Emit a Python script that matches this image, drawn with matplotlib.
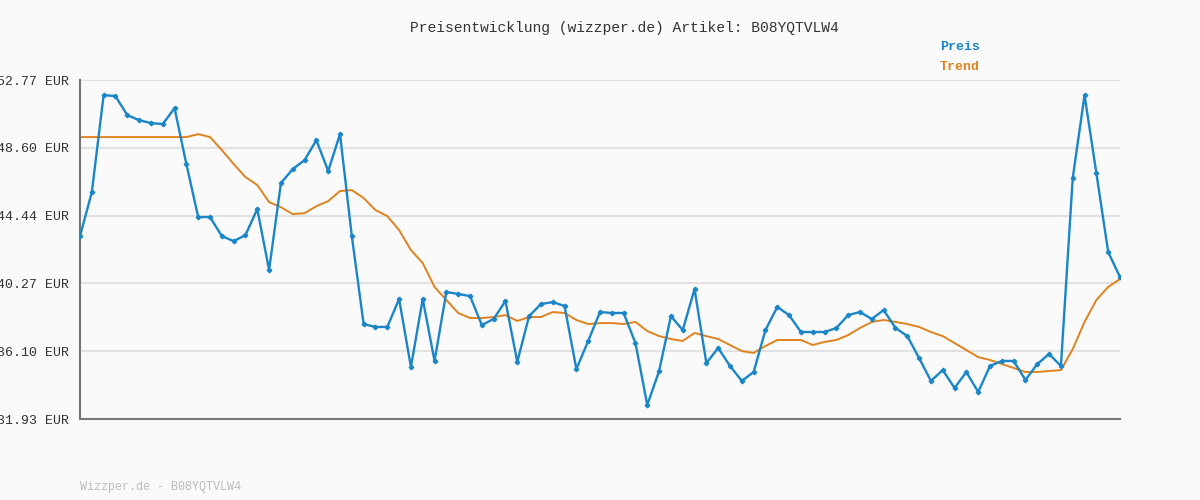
import numpy as np
import matplotlib.pyplot as plt

preis = [43.18, 45.88, 51.85, 51.79, 50.62, 50.31, 50.13, 50.07, 51.05, 47.61,
         44.35, 44.35, 43.18, 42.87, 43.24, 44.84, 41.10, 46.44, 47.30, 47.85,
         49.08, 47.18, 49.45, 43.18, 37.77, 37.59, 37.59, 39.31, 35.13, 39.31,
         35.50, 39.74, 39.62, 39.49, 37.71, 38.08, 39.19, 35.44, 38.26, 39.00,
         39.12, 38.88, 35.00, 36.73, 38.51, 38.45, 38.45, 36.60, 32.79, 34.88,
         38.26, 37.40, 39.92, 35.37, 36.30, 35.19, 34.27, 34.82, 37.40, 38.82,
         38.32, 37.28, 37.28, 37.28, 37.53, 38.32, 38.51, 38.08, 38.63, 37.53,
         37.03, 35.68, 34.27, 34.94, 33.84, 34.82, 33.59, 35.19, 35.50, 35.50,
         34.33, 35.31, 35.93, 35.19, 46.75, 51.85, 47.05, 42.20, 40.66]

trend = [49.27] * 10 + [
         49.45, 49.27, 48.47, 47.61, 46.81, 46.32, 45.27, 44.96, 44.53, 44.59,
         45.02, 45.33, 45.95, 46.01, 45.52, 44.78, 44.41, 43.55, 42.32, 41.52,
         40.05, 39.25, 38.45, 38.14, 38.14, 38.20, 38.32, 37.96, 38.20, 38.20,
         38.51, 38.45, 38.02, 37.77, 37.83, 37.83, 37.77, 37.90, 37.34, 37.03,
         36.85, 36.73, 37.22, 37.03, 36.85, 36.48, 36.11, 35.99, 36.42, 36.79,
         36.79, 36.79, 36.48, 36.67, 36.79, 37.09, 37.53, 37.90, 38.02, 37.90,
         37.77, 37.59, 37.28, 37.03, 36.60, 36.17, 35.74, 35.56, 35.31, 35.07,
         34.82, 34.82, 34.88, 34.94, 36.23, 37.90, 39.25, 40.05, 40.54]

yticks = [31.93, 36.10, 40.27, 44.44, 48.60, 52.77]
artikel = "B08YQTVLW4"

mono = ["Liberation Mono", "DejaVu Sans Mono"]
blue = "#1a86c8"
orange = "#e0821e"

fig = plt.figure(figsize=(12, 5), dpi=100, facecolor="#fafafa")
ax = fig.add_axes([80 / 1200, 81 / 500, 1040 / 1200, 339 / 500])
ax.set_facecolor("#fafafa")

x1 = np.linspace(0, 1, len(preis))
x2 = np.linspace(0, 1, len(trend))
ax.plot(x2, trend, color=orange, lw=1.4, zorder=2)
ax.plot(x1, preis, color=blue, lw=1.7, marker="D", ms=2.3, zorder=3)

ax.set_xlim(0, 1)
ax.set_yticks(yticks)
ax.set_yticklabels([f"{v:.2f} EUR" for v in yticks], fontfamily=mono, fontsize=9.5, color="#333333")
ax.set_xticks([])
ax.tick_params(axis="y", length=0, pad=8)
ax.grid(axis="y", color="#e2e2e2", lw=1.5)
ax.set_axisbelow(True)
for s in ["top", "right"]:
    ax.spines[s].set_visible(False)
for s in ["left", "bottom"]:
    ax.spines[s].set_color("#777777")
    ax.spines[s].set_linewidth(1.5)
ax.set_ylim(yticks[0], yticks[-1] + 0.01)

fig.text(0.52, 1 - 28 / 500, f"Preisentwicklung (wizzper.de) Artikel: {artikel}",
         ha="center", va="center", fontfamily=mono, fontsize=10.5, color="#333333")
fig.text(940 / 1200, 1 - 47 / 500, "Preis", color=blue, fontfamily=mono,
         fontsize=9.5, fontweight="bold", va="center")
fig.text(940 / 1200, 1 - 67 / 500, "Trend", color=orange, fontfamily=mono,
         fontsize=9.5, fontweight="bold", va="center")
fig.text(80 / 1200, 1 - 487 / 500, f"Wizzper.de - {artikel}", color="#bbbbbb",
         fontfamily=mono, fontsize=8.5, va="center")

fig.savefig("out.png", dpi=100, facecolor=fig.get_facecolor())
